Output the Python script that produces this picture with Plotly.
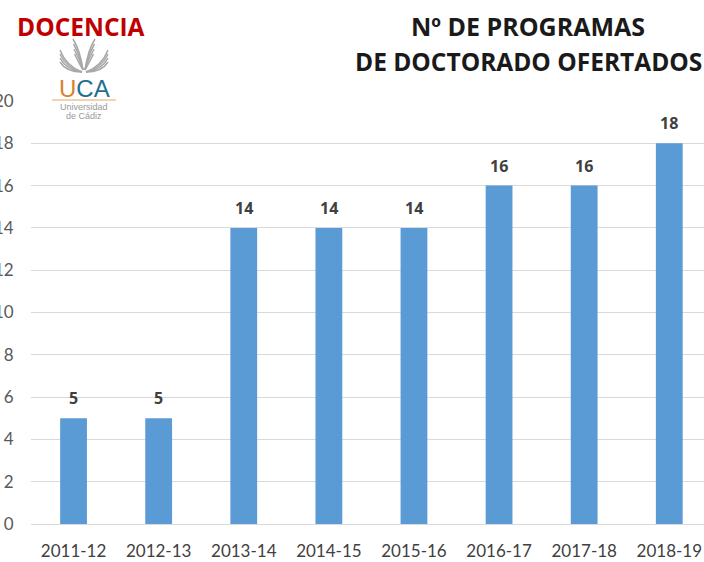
import plotly.graph_objects as go

categories = ["2011-12", "2012-13", "2013-14", "2014-15", "2015-16", "2016-17", "2017-18", "2018-19"]
programas = [5, 5, 14, 14, 14, 16, 16, 18]
y_ticks = list(range(0, 21, 2))

W, H = 704, 562
L, R, T, B = 31, 704, 101, 524
FONT = "Lato, 'Open Sans', sans-serif"
BOLD = "Open Sans, sans-serif"
GREY = "#595959"

fig = go.Figure(go.Bar(x=categories, y=programas, width=0.315,
                       marker=dict(color="#5B9BD5", line_width=0), hoverinfo="skip"))


def px(x):
    return (x - L) / (R - L)


def py(y):
    return (B - y) / (B - T)


annotations = []
for c, v in zip(categories, programas):
    annotations.append(dict(x=c, y=v, text=f"<b>{v}</b>", showarrow=False, xref="x", yref="y",
                            yshift=20, font=dict(family=BOLD, size=16, color="#404040")))


def add_text(x, y, text, size, color, family=FONT):
    annotations.append(dict(x=px(x), y=py(y), xref="paper", yref="paper", text=text, showarrow=False,
                            xanchor="center", yanchor="middle", font=dict(size=size, color=color, family=family)))


add_text(81, 26, "<b>DOCENCIA</b>", 24.5, "#C00000", BOLD)
add_text(528, 26, "<b>Nº DE PROGRAMAS</b>", 25, "#1a1a1a", BOLD)
add_text(528, 61, "<b>DE DOCTORADO OFERTADOS</b>", 24.5, "#1a1a1a", BOLD)
add_text(84, 88, "<span style='color:#D9822B'>U</span><span style='color:#1F6F8F'>CA</span>", 24, "#1F6F8F",
         "Liberation Sans, sans-serif")
add_text(84, 107, "Universidad", 9, "#9a9a9a", "Liberation Sans, sans-serif")
add_text(84, 116, "de Cádiz", 9, "#9a9a9a", "Liberation Sans, sans-serif")

shapes = [dict(type="line", xref="paper", yref="paper", x0=px(52), x1=px(116), y0=py(100), y1=py(100),
               line=dict(color="#E8A860", width=1.2), layer="above")]
# wheat emblem of the logo (decoration)
for d in [0, 4, 8, 12]:
    shapes.append(dict(type="path", xref="paper", yref="paper", layer="above",
                       path=f"M {px(60)},{py(50 + d)} Q {px(66)},{py(66 + d * .5)} {px(82)},{py(72)}",
                       line=dict(color="#A8A8A8", width=1.5)))
    shapes.append(dict(type="path", xref="paper", yref="paper", layer="above",
                       path=f"M {px(108)},{py(50 + d)} Q {px(102)},{py(66 + d * .5)} {px(86)},{py(72)}",
                       line=dict(color="#A8A8A8", width=1.5)))
for d in [0, 5, 10, 15]:
    shapes.append(dict(type="path", xref="paper", yref="paper", layer="above",
                       path=f"M {px(73 + d * .1)},{py(39 + d)} Q {px(80)},{py(50 + d)} {px(83)},{py(70)}",
                       line=dict(color="#A8A8A8", width=1.5)))
    shapes.append(dict(type="path", xref="paper", yref="paper", layer="above",
                       path=f"M {px(95 - d * .1)},{py(39 + d)} Q {px(88)},{py(50 + d)} {px(85)},{py(70)}",
                       line=dict(color="#A8A8A8", width=1.5)))

fig.update_layout(
    width=W, height=H, autosize=False,
    margin=dict(l=L, r=W - R, t=T, b=H - B, pad=0),
    paper_bgcolor="white", plot_bgcolor="white", showlegend=False,
    font=dict(family=FONT, color=GREY),
    annotations=annotations, shapes=shapes,
    xaxis=dict(type="category", categoryorder="array", categoryarray=categories,
               range=[-0.5, 7.408], showgrid=False, showline=True, linecolor="#D9D9D9", linewidth=1,
               ticks="outside", ticklen=12, tickcolor="rgba(0,0,0,0)", tickfont=dict(size=17, color="#404040"),
               tickangle=0, automargin=False),
    yaxis=dict(range=[0, 20], tickvals=y_ticks, showgrid=True, gridcolor="#D9D9D9", gridwidth=1,
               zeroline=False, ticks="outside", ticklen=13, tickcolor="rgba(0,0,0,0)",
               tickfont=dict(size=17, color=GREY), automargin=False),
)
fig.write_html("out.html", config={"displayModeBar": False},
               post_script="document.body.style.margin='0';document.body.style.overflow='hidden';")
